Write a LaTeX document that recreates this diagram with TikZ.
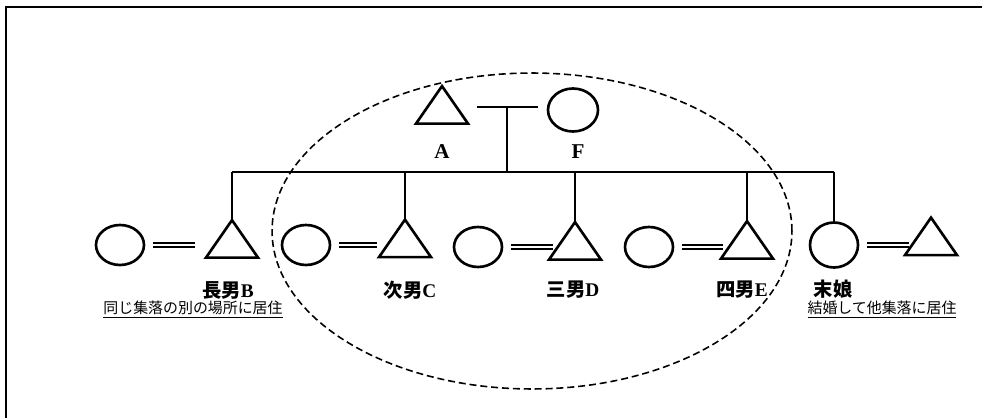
\documentclass[tikz,border=0pt]{standalone}
\usepackage{fontspec}
\setmainfont{Liberation Serif}
\newfontfamily\jp{Noto Sans CJK JP}
\usepackage{tikz}
\usetikzlibrary{shapes.geometric}

\tikzset{
  man/.style={draw, line width=1.5pt, isosceles triangle, shape border rotate=90,
    isosceles triangle stretches, minimum width=1.04cm, minimum height=0.75cm,
    inner sep=0pt, outer sep=0pt},
  woman/.style={draw, line width=1.5pt, ellipse, minimum width=0.96cm,
    minimum height=0.8cm, inner sep=0pt, outer sep=0pt},
  wed/.style={double, line width=1pt, double distance=1.3pt,
    shorten <=1.8mm, shorten >=4.4mm},
  link/.style={line width=0.8pt},
  who/.style={font=\fontsize{11}{13}\selectfont\bfseries},
  note/.style={font=\jp\fontsize{8.5}{10}\selectfont}
}

\begin{document}
\begin{tikzpicture}[x=0.02cm,y=-0.02cm]
\useasboundingbox (0,0) rectangle (982,418);
\draw[line width=1.1pt] (6,418) -- (6,7) -- (982,7);

% parents
\node[man] (mA) at (442,110) {};
\node[woman, minimum width=1cm, minimum height=0.86cm] (wF) at (573,110) {};
\node[font=\fontsize{12}{14}\selectfont\bfseries] (lA) at (442,152) {A};
\node[font=\fontsize{12}{14}\selectfont\bfseries] (lF) at (578,152) {F};
\coordinate (cAF) at (507,107);
\draw[link, shorten <=3.6mm, shorten >=2mm] (mA.east |- cAF) -- (wF.west |- cAF);
\coordinate (sibL) at (232,172);

% children and spouses
\node[woman] (wB) at (120,245) {};
\node[man] (mB) at (232,244) {};
\node[woman] (wC) at (306,245) {};
\node[man] (mC) at (405,243.5) {};
\node[woman] (wD) at (478,247) {};
\node[man] (mD) at (575,246) {};
\node[woman] (wE) at (649,247) {};
\node[man] (mE) at (747,245) {};
\node[woman, minimum height=0.9cm] (dG) at (834,245) {};
\node[man] (hG) at (931,241.5) {};

\draw[link] (cAF) -- (cAF |- sibL);
\draw[link] (mB.apex |- sibL) -- (dG.north |- sibL);
\foreach \k in {mB,mC,mD,mE}
  \draw[link] (\k.apex) -- (\k.apex |- sibL);
\draw[link] (dG.north) -- (dG.north |- sibL);

\draw[wed, shorten >=7.4mm] (wB) -- (wB -| mB);
\draw[wed, shorten >=5.6mm] (wC) -- (wC -| mC);
\draw[wed] (wD) -- (wD -| mD);
\draw[wed, shorten >=4.8mm] (wE) -- (wE -| mE);
\draw[wed] (dG) -- (dG -| hG);

% labels
\node[who] (lB) at (228,290) {{\jp 長男}B};
\node[who] (lC) at (410,290) {{\jp 次男}C};
\node[who] (lD) at (573,290) {{\jp 三男}D};
\node[who] (lE) at (742,290) {{\jp 四男}E};
\node[who] (lG) at (833,289) {{\jp 末娘}};
\node[note] (nB) at (193,310) {\underline{同じ集落の別の場所に居住}};
\node[note] (nG) at (882,310) {\underline{結婚して他集落に居住}};

\draw[line width=0.9pt, dash pattern=on 4pt off 2.2pt] (532,231) ellipse [x radius=5.2cm, y radius=3.16cm];
\end{tikzpicture}
\end{document}
